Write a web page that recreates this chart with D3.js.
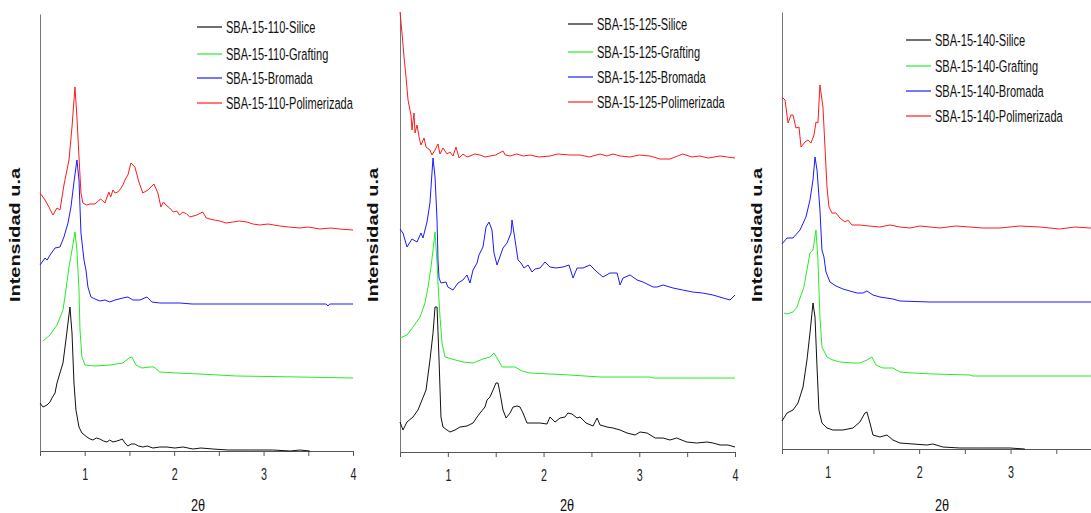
<!DOCTYPE html>
<html>
<head>
<meta charset="utf-8">
<script src="https://cdn.jsdelivr.net/npm/d3@7"></script>
<style>
  body { margin: 0; background: #fff; }
  svg { display: block; }
</style>
</head>
<body>
<div id="visual"></div>
<script>
// 2theta vs intensity (a.u.), offsets included
const sil110 = [[0.5,48],[0.534,44],[0.578,46],[0.612,49],[0.634,53],[0.668,58],[0.69,68],[0.723,78],[0.757,88],[0.79,111],[0.813,128],[0.835,144],[0.858,118],[0.88,68],[0.902,41],[0.936,24],[0.969,18],[1.025,14],[1.06,12],[1.092,11],[1.13,13],[1.17,12],[1.21,10],[1.249,9],[1.28,11],[1.316,9],[1.36,10],[1.394,11],[1.42,12],[1.45,8],[1.483,5],[1.52,7],[1.561,7],[1.6,5],[1.65,4],[1.7,5],[1.763,3],[1.84,4],[1.919,4],[2.008,3],[2.1,4],[2.21,2],[2.3,3],[2.433,2],[2.6,1],[2.846,1],[3.1,1],[3.3,0],[3.405,1],[3.517,0]];
const grf110 = [[0.534,110],[0.612,116],[0.69,126],[0.757,141],[0.79,161],[0.824,184],[0.858,201],[0.88,213],[0.891,219],[0.902,210],[0.913,201],[0.936,161],[0.947,121],[0.969,94],[1.003,86],[1.115,85],[1.282,86],[1.427,88],[1.494,93],[1.528,94],[1.573,86],[1.64,83],[1.73,84],[1.774,84],[1.84,79],[2.03,78],[2.288,77],[2.7,75],[3.405,74],[4.0,73]];
const brom110 = [[0.5,186],[0.556,193],[0.58,191],[0.612,196],[0.668,203],[0.723,204],[0.768,214],[0.813,228],[0.846,244],[0.88,269],[0.913,291],[0.936,271],[0.958,218],[0.992,191],[1.014,181],[1.036,164],[1.07,154],[1.115,152],[1.17,150],[1.226,151],[1.28,149],[1.338,151],[1.427,153],[1.483,154],[1.539,151],[1.617,151],[1.696,154],[1.751,149],[1.84,148],[2.064,148],[2.2,147],[2.433,147],[3.7,147],[3.72,145],[3.74,147],[4.0,147]];
const pol110 = [[0.5,258],[0.556,251],[0.6,244],[0.645,236],[0.69,243],[0.723,241],[0.768,266],[0.824,291],[0.858,324],[0.891,364],[0.913,334],[0.936,294],[0.958,258],[0.98,248],[1.02,246],[1.059,247],[1.115,247],[1.15,250],[1.18,252],[1.226,248],[1.27,259],[1.29,254],[1.316,261],[1.34,258],[1.37,259],[1.4,262],[1.427,266],[1.455,272],[1.483,276],[1.517,288],[1.561,284],[1.606,269],[1.65,258],[1.707,261],[1.774,267],[1.818,258],[1.852,244],[1.88,249],[1.908,246],[1.95,243],[1.99,239],[2.03,240],[2.06,236],[2.098,239],[2.14,237],[2.176,234],[2.254,236],[2.32,239],[2.36,233],[2.4,232],[2.45,231],[2.511,230],[2.58,228],[2.656,229],[2.73,230],[2.813,229],[2.88,227],[2.958,226],[3.05,227],[3.18,225],[3.28,224],[3.405,223],[3.5,224],[3.63,222],[3.75,223],[3.85,222],[4.0,221]];

const sil125 = [[0.5,30],[0.531,22],[0.573,30],[0.636,35],[0.688,42],[0.73,52],[0.772,62],[0.813,92],[0.845,119],[0.866,145],[0.887,145],[0.908,92],[0.928,35],[0.949,25],[0.991,22],[1.022,20],[1.075,22],[1.127,25],[1.2,26],[1.263,29],[1.305,35],[1.336,39],[1.388,45],[1.409,52],[1.44,55],[1.472,62],[1.503,69],[1.524,69],[1.545,59],[1.576,42],[1.608,34],[1.65,39],[1.681,45],[1.723,46],[1.754,45],[1.785,39],[1.827,29],[1.89,29],[1.963,29],[2.036,28],[2.067,35],[2.12,30],[2.172,34],[2.224,35],[2.255,39],[2.297,38],[2.35,34],[2.381,35],[2.444,29],[2.517,26],[2.559,34],[2.59,27],[2.663,25],[2.726,24],[2.799,22],[2.872,19],[2.956,17],[3.008,20],[3.081,19],[3.165,14],[3.248,14],[3.321,12],[3.39,14],[3.495,10],[3.6,9],[3.708,10],[3.77,9],[3.844,7],[3.927,7],[4.0,5]];
const grf125 = [[0.5,114],[0.573,117],[0.636,125],[0.709,135],[0.761,149],[0.793,165],[0.824,185],[0.845,202],[0.866,220],[0.887,189],[0.897,169],[0.918,135],[0.939,109],[0.97,95],[1.043,93],[1.158,90],[1.263,89],[1.367,93],[1.44,95],[1.482,99],[1.514,94],[1.566,85],[1.65,85],[1.702,85],[1.775,81],[1.858,79],[2.067,78],[2.276,77],[2.59,75],[3.112,75],[3.15,74],[3.63,74],[4.0,74]];
const brom125 = [[0.5,223],[0.531,219],[0.573,205],[0.625,213],[0.678,210],[0.719,219],[0.74,214],[0.782,230],[0.813,249],[0.834,279],[0.845,294],[0.866,275],[0.887,232],[0.897,192],[0.908,174],[0.928,169],[0.98,170],[1.0,165],[1.054,162],[1.106,169],[1.158,172],[1.2,177],[1.231,169],[1.263,182],[1.305,189],[1.325,197],[1.367,205],[1.399,225],[1.43,230],[1.461,222],[1.482,199],[1.514,187],[1.576,204],[1.618,209],[1.66,219],[1.67,232],[1.702,212],[1.733,192],[1.764,189],[1.796,184],[1.838,187],[1.879,180],[1.911,183],[1.963,184],[2.015,190],[2.067,185],[2.13,184],[2.203,185],[2.266,187],[2.308,174],[2.35,184],[2.412,184],[2.485,187],[2.559,180],[2.621,175],[2.694,179],[2.768,179],[2.799,167],[2.83,174],[2.904,177],[2.977,172],[3.039,170],[3.144,165],[3.186,165],[3.248,167],[3.353,164],[3.453,162],[3.557,160],[3.66,159],[3.77,157],[3.875,154],[3.948,152],[4.0,157]];
const pol125 = [[0.5,440],[0.521,419],[0.542,395],[0.563,375],[0.584,352],[0.615,337],[0.625,322],[0.646,339],[0.657,319],[0.678,327],[0.699,315],[0.719,307],[0.751,314],[0.772,305],[0.813,302],[0.834,297],[0.866,302],[0.897,308],[0.918,298],[0.949,304],[0.991,298],[1.022,300],[1.054,296],[1.085,305],[1.117,294],[1.158,298],[1.2,295],[1.231,296],[1.28,298],[1.336,297],[1.39,295],[1.44,296],[1.5,297],[1.576,301],[1.6,297],[1.65,296],[1.72,298],[1.79,296],[1.858,297],[1.95,295],[2.067,296],[2.15,298],[2.276,297],[2.381,297],[2.48,295],[2.59,298],[2.66,296],[2.726,298],[2.8,296],[2.904,295],[3.0,297],[3.112,296],[3.217,293],[3.321,293],[3.4,296],[3.453,298],[3.55,295],[3.63,296],[3.72,294],[3.844,296],[3.92,295],[4.0,294]];

const sil140 = [[0.5,28],[0.555,36],[0.62,39],[0.675,46],[0.73,62],[0.773,89],[0.806,116],[0.839,146],[0.861,132],[0.883,82],[0.904,39],[0.937,26],[0.992,21],[1.057,19],[1.167,19],[1.276,21],[1.352,27],[1.407,36],[1.429,37],[1.462,26],[1.495,14],[1.571,12],[1.648,14],[1.713,9],[1.79,6],[1.932,5],[2.085,4],[2.15,5],[2.26,2],[2.445,1],[2.664,1],[2.992,1],[3.156,0]];
const grf140 = [[0.522,136],[0.555,135],[0.62,137],[0.664,142],[0.697,151],[0.74,162],[0.773,179],[0.806,196],[0.839,199],[0.872,219],[0.893,189],[0.915,132],[0.937,102],[0.992,92],[1.057,89],[1.134,87],[1.276,86],[1.352,86],[1.429,89],[1.484,92],[1.527,84],[1.604,81],[1.713,81],[1.79,77],[1.932,76],[2.15,75],[2.555,74],[2.587,73],[4.0,73]];
const brom140 = [[0.5,205],[0.555,211],[0.62,211],[0.697,219],[0.762,232],[0.806,249],[0.839,269],[0.861,292],[0.883,279],[0.915,239],[0.937,199],[0.959,192],[0.981,177],[1.025,167],[1.09,163],[1.167,160],[1.243,158],[1.32,156],[1.385,156],[1.429,158],[1.495,154],[1.571,152],[1.713,150],[1.79,148],[2.117,147],[2.336,147],[2.883,147],[4.0,147]];
const pol140 = [[0.5,352],[0.533,349],[0.566,326],[0.598,334],[0.62,334],[0.653,321],[0.686,322],[0.708,302],[0.751,307],[0.784,309],[0.817,306],[0.85,314],[0.872,327],[0.893,326],[0.915,364],[0.948,342],[0.97,302],[0.992,262],[1.014,242],[1.046,236],[1.09,236],[1.134,231],[1.189,227],[1.221,229],[1.265,224],[1.352,224],[1.45,223],[1.571,222],[1.68,224],[1.79,222],[1.9,221],[2.008,223],[2.12,222],[2.227,221],[2.4,223],[2.555,222],[2.7,221],[2.883,221],[3.1,223],[3.32,222],[3.538,220],[3.7,222],[3.877,221],[4.0,221]];

const labels110 = ["SBA-15-110-Silice", "SBA-15-110-Grafting", "SBA-15-Bromada", "SBA-15-110-Polimerizada"];
const labels125 = ["SBA-15-125-Silice", "SBA-15-125-Grafting", "SBA-15-125-Bromada", "SBA-15-125-Polimerizada"];
const labels140 = ["SBA-15-140-Silice", "SBA-15-140-Grafting", "SBA-15-140-Bromada", "SBA-15-140-Polimerizada"];
const xTicks = [0.5, 1, 1.5, 2, 2.5, 3, 3.5, 4];

const COLORS = ["#111111", "#22ee22", "#1a1aff", "#ff1a1a"];
const SANS = "'Liberation Sans', Arial, sans-serif";
const NARROW_X = 0.67; // no narrow font installed, squeeze regular sans instead

let width = 1091, height = 513;

let svg = d3.select("#visual")
    .append("svg")
    .attr("width", width)
    .attr("height", height);

// panel frames (pixel layout)
let panels = [
    {series: [sil110, grf110, brom110, pol110], labels: labels110,
     left: 40, right: 353, base: 451, top: 14, ymax: 437,
     legX: 197, legY: [27, 54, 78, 103], ylabX: 15, xlabX: 198},
    {series: [sil125, grf125, brom125, pol125], labels: labels125,
     left: 400, right: 735, base: 452, top: 12, ymax: 440,
     legX: 568, legY: [24, 52, 77, 102], ylabX: 373, xlabX: 567},
    {series: [sil140, grf140, brom140, pol140], labels: labels140,
     left: 782, right: 1102, base: 449, top: 12, ymax: 437,
     legX: 906, legY: [40, 66, 91, 116], ylabX: 757, xlabX: 942}
];

panels.forEach(function (p) {
    let x = d3.scaleLinear().domain([0.5, 4]).range([p.left, p.right]);
    let y = d3.scaleLinear().domain([0, p.ymax]).range([p.base, p.top]);

    let g = svg.append("g");

    // x axis (only ticks that fall inside the picture)
    let ax = g.append("g")
        .attr("transform", "translate(0," + p.base + ")")
        .call(d3.axisBottom(x)
            .tickValues(xTicks.filter(d => x(d) <= width - 4))
            .tickSize(5)
            .tickSizeOuter(0)
            .tickFormat(d => Number.isInteger(d) ? d : ""));
    ax.select(".domain").attr("stroke", "#555");
    ax.selectAll(".tick line").attr("stroke", "#555");
    ax.selectAll(".tick text")
        .attr("y", 0)
        .attr("dy", 0)
        .attr("transform", "translate(0,29)scale(" + NARROW_X + ",1)")
        .style("font-family", SANS)
        .style("font-size", "16px")
        .style("fill", "#222");

    // y axis, line only
    g.append("g")
        .attr("transform", "translate(" + p.left + ",0)")
        .call(d3.axisLeft(y).tickValues([]).tickSizeOuter(0))
        .select(".domain").attr("stroke", "#777");

    // curves
    let line = d3.line()
        .x(d => x(d[0]))
        .y(d => y(d[1]));

    p.series.forEach(function (s, i) {
        g.append("path")
            .datum(s)
            .attr("d", line)
            .attr("fill", "none")
            .attr("stroke", COLORS[i])
            .attr("stroke-width", 1)
            .attr("stroke-linejoin", "round");
    });

    // legend
    let leg = g.selectAll(".leg")
        .data(p.labels)
        .enter().append("g")
        .attr("transform", (d, i) => "translate(" + p.legX + "," + p.legY[i] + ")");

    leg.append("line")
        .attr("x1", 0).attr("x2", 25)
        .attr("stroke", (d, i) => COLORS[i])
        .attr("stroke-width", 1.2);

    leg.append("text")
        .attr("transform", "translate(29,0)scale(" + NARROW_X + ",1)")
        .attr("dy", "0.36em")
        .text(d => d)
        .style("font-family", SANS)
        .style("font-size", "16.5px")
        .style("fill", "#111");

    // axis titles
    g.append("text")
        .attr("transform", "translate(" + p.ylabX + ",235)rotate(-90)")
        .attr("text-anchor", "middle")
        .attr("dy", "0.35em")
        .attr("textLength", 134)
        .attr("lengthAdjust", "spacingAndGlyphs")
        .style("font-family", SANS)
        .style("font-weight", "700")
        .style("font-size", "14px")
        .style("fill", "#111")
        .text("Intensidad u.a");

    g.append("text")
        .attr("transform", "translate(" + p.xlabX + ",511)scale(0.75,1)")
        .attr("text-anchor", "middle")
        .style("font-family", SANS)
        .style("font-size", "17px")
        .style("fill", "#111")
        .text("2θ");
});
</script>
</body>
</html>
